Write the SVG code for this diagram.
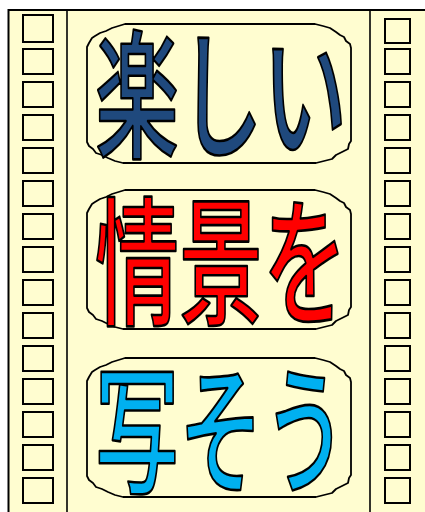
<svg xmlns="http://www.w3.org/2000/svg" width="425" height="512" viewBox="0 0 425 512">
<style>
.film{fill:#FFFDD0;stroke:#000;stroke-width:2}
.div{stroke:#000;stroke-width:1.6}
.hole{fill:#FFFDD0;stroke:#000;stroke-width:2}
.plate{fill:#FFFDD0;stroke:#000;stroke-width:1.8;stroke-linejoin:round}
.t{font-family:"Noto Sans CJK JP","Noto Sans CJK SC",sans-serif;font-size:84px;font-weight:500;stroke:#000;stroke-width:1.6;stroke-linejoin:round}
</style>
<defs>
<path id="plateShape" d="M38,0 L228,0 L236,2 L243,4 L249,8 L253,11 L257,13 L259,17 L263,20 L264,24 L264,117 L262,120 L261,125 L255,128 L249,131 L245,135 L237,137 L229,139 L36,139 L28,137 L21,134 L15,131 L9,129 L6,125 L2,122 L0,118 L0,23 L2,19 L5,14 L8,12 L13,9 L19,7 L25,4 Z"/>
</defs>
<rect width="425" height="512" fill="#FFFFFF"/>
<g id="film">
<rect class="film" x="8.5" y="10" width="440" height="520"/>
<line class="div" x1="67" y1="10" x2="67" y2="512"/>
<line class="div" x1="370" y1="10" x2="370" y2="512"/>
</g>
<g id="holes-left">
<rect class="hole" x="23" y="15" width="30" height="27"/>
<rect class="hole" x="23" y="49" width="30" height="25"/>
<rect class="hole" x="23" y="82" width="30" height="25"/>
<rect class="hole" x="23" y="115" width="30" height="25"/>
<rect class="hole" x="23" y="148" width="30" height="25"/>
<rect class="hole" x="23" y="181" width="30" height="25"/>
<rect class="hole" x="23" y="214" width="30" height="25"/>
<rect class="hole" x="23" y="247" width="30" height="25"/>
<rect class="hole" x="23" y="280" width="30" height="25"/>
<rect class="hole" x="23" y="313" width="30" height="25"/>
<rect class="hole" x="23" y="346" width="30" height="25"/>
<rect class="hole" x="23" y="379" width="30" height="25"/>
<rect class="hole" x="23" y="412" width="30" height="25"/>
<rect class="hole" x="23" y="445" width="30" height="25"/>
<rect class="hole" x="23" y="478" width="30" height="25"/>
</g>
<g id="holes-right">
<rect class="hole" x="385" y="19" width="25" height="24"/>
<rect class="hole" x="385" y="49" width="25" height="25"/>
<rect class="hole" x="385" y="82" width="25" height="25"/>
<rect class="hole" x="385" y="115" width="25" height="25"/>
<rect class="hole" x="385" y="148" width="25" height="25"/>
<rect class="hole" x="385" y="181" width="25" height="25"/>
<rect class="hole" x="385" y="214" width="25" height="25"/>
<rect class="hole" x="385" y="247" width="25" height="25"/>
<rect class="hole" x="385" y="280" width="25" height="25"/>
<rect class="hole" x="385" y="313" width="25" height="25"/>
<rect class="hole" x="385" y="346" width="25" height="25"/>
<rect class="hole" x="385" y="379" width="25" height="25"/>
<rect class="hole" x="385" y="412" width="25" height="25"/>
<rect class="hole" x="385" y="445" width="25" height="25"/>
<rect class="hole" x="385" y="478" width="25" height="25"/>
</g>
<g id="plate1">
<use href="#plateShape" class="plate" transform="translate(87,24)"/>
<text class="t" fill="#1F497D" transform="translate(95,147) scale(1,1.65)">楽しい</text>
</g>
<g id="plate2">
<use href="#plateShape" class="plate" transform="translate(87,190)"/>
<text class="t" fill="#FF0000" transform="translate(95,314) scale(1,1.65)">情景を</text>
</g>
<g id="plate3">
<use href="#plateShape" class="plate" transform="translate(87,358)"/>
<text class="t" fill="#00B0F0" transform="translate(95,482) scale(1,1.65)">写そう</text>
</g>
</svg>
